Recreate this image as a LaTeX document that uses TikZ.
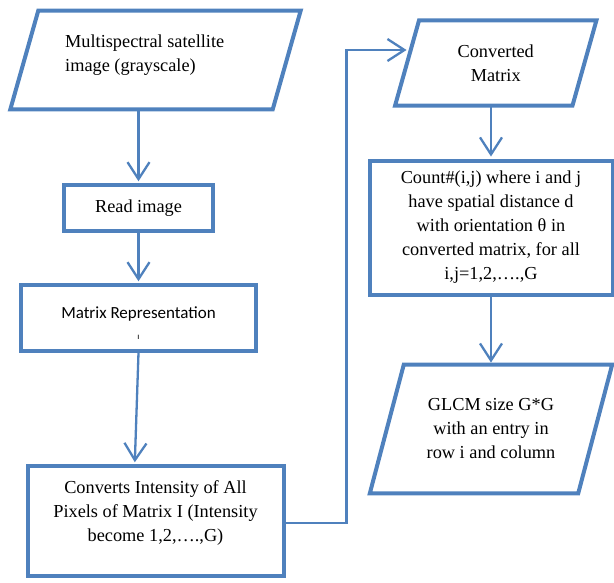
\documentclass[tikz,border=0pt]{standalone}
\usepackage{fontspec}
\setmainfont{Liberation Serif}
\newfontfamily\calibrifont{Carlito}
\usetikzlibrary{arrows.meta}
\definecolor{flowblue}{RGB}{79,129,189}
\tikzset{
	plain/.style={inner sep=0pt, align=center, font=\fontsize{18.3}{24}\selectfont},
	box/.style={plain, draw=flowblue, line width=4pt},
	frame/.style={draw=flowblue, line width=4pt},
	flow/.style={draw=flowblue, line width=2.3pt, shorten >=2pt, -{Straight Barb[length=17pt,width=22pt]}}
}
\begin{document}
\begin{tikzpicture}[x=1pt,y=-1pt]
			\useasboundingbox (0,0) rectangle (614,582);
			% left column
			\node[plain, minimum width=262pt, minimum height=98.5pt] (src) at (155.5,60) {};
			\draw[frame] ([xshift=14pt]src.north west) -- ([xshift=14pt]src.north east) -- ([xshift=-14pt]src.south east) -- ([xshift=-14pt]src.south west) -- cycle;
			\node[plain, anchor=west, align=left] (srctext) at (65,55) {Multispectral satellite\\image (grayscale)};
			\node[box, minimum width=149pt, minimum height=45.5pt] (read) at (138.5,208) {Read image};
			\node[box, font=\calibrifont\fontsize{17}{21}\selectfont, minimum width=235pt, minimum height=65.5pt] (matrep) at (138.5,318) {\rule{0pt}{22pt}Matrix Representation\\{\fontsize{9}{9}\selectfont ı}};
			\node[box, minimum width=256.5pt, minimum height=109.5pt] (conv) at (155.75,521) {};
			\node[plain] (convtext) at (155.5,513) {Converts Intensity of All\\Pixels of Matrix I (Intensity\\become 1,2,….,G)};
			% right column
			\node[plain, minimum width=177pt, minimum height=85pt] (cmat) at (495.75,63) {Converted\\Matrix};
			\draw[frame] ([xshift=12pt]cmat.north west) -- ([xshift=12pt]cmat.north east) -- ([xshift=-12pt]cmat.south east) -- ([xshift=-12pt]cmat.south west) -- cycle;
			\node[box, minimum width=243pt, minimum height=134pt] (count) at (491,227.5) {Count\#(i,j) where i and j\\have spatial distance d\\with orientation θ in\\converted matrix, for all\\i,j=1,2,….,G};
			\node[plain, minimum width=208pt, minimum height=128.5pt] (glcm) at (491,429) {GLCM size G*G\\with an entry in\\row i and column};
			\draw[frame] ([xshift=17pt]glcm.north west) -- ([xshift=17pt]glcm.north east) -- ([xshift=-17pt]glcm.south east) -- ([xshift=-17pt]glcm.south west) -- cycle;
			% connectors
			\coordinate (cin) at ([xshift=1.5pt,yshift=13pt]cmat.west);
			\draw[flow] (read.north |- src.south) -- (read.north);
			\draw[flow] (read.south) -- (matrep.north);
			\draw[flow] (matrep.south) -- ([xshift=-21pt]conv.north);
			\draw[flow] ([yshift=-2pt]conv.east) -| ([xshift=-62pt]cin) -- (cin);
			\draw[flow] (count.north |- cmat.south) -- (count.north);
			\draw[flow] (count.south) -- (glcm.north);
		\end{tikzpicture}
\end{document}
